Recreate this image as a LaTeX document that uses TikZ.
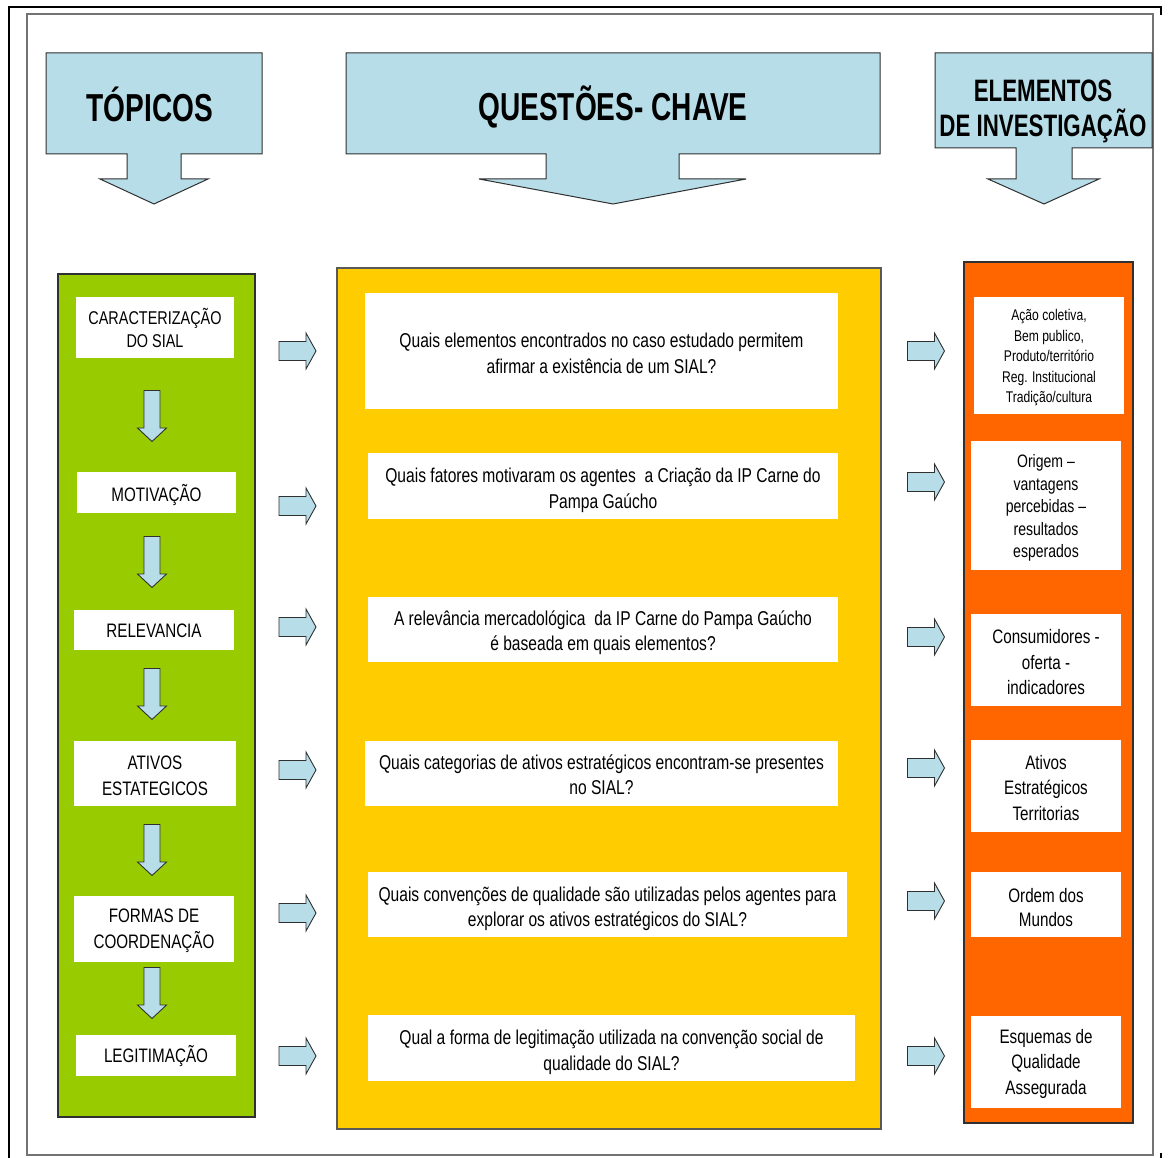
\documentclass[tikz,border=0pt]{standalone}
\usepackage{fontspec}
\newfontfamily\headfont[FakeStretch=0.72]{Liberation Sans}
\newfontfamily\bodyfont[FakeStretch=0.78]{Liberation Sans}
\usetikzlibrary{calc}

\definecolor{hdrblue}{HTML}{B7DEE8}
\definecolor{colgreen}{HTML}{99CC00}
\definecolor{colyellow}{HTML}{FFCC00}
\definecolor{colorange}{HTML}{FF6600}
\definecolor{edge}{HTML}{303030}

% invisible strut that raises the first line of a box, pushing its text down
\newcommand\toppad[1]{\rule{0pt}{#1pt}}

\tikzset{
  hdr/.style={fill=hdrblue, draw=edge, line width=1pt, line join=miter},
  hdrtext/.style={font=\headfont\bfseries\fontsize{39}{41}\selectfont, inner sep=0pt, anchor=base},
  column/.style={draw=edge, line width=1.2pt},
  wbox/.style={fill=white, draw=none, inner sep=2pt, align=center, text=black},
  ltxt/.style={wbox, font=\bodyfont\fontsize{19.5}{23}\selectfont},
  ltxtwide/.style={wbox, font=\bodyfont\fontsize{19.5}{26}\selectfont},
  qtxt/.style={wbox, font=\bodyfont\fontsize{20}{25.5}\selectfont},
  etxt/.style={wbox, font=\bodyfont\fontsize{19.5}{25.5}\selectfont},
  blk/.style={fill=hdrblue, draw=edge, line width=0.9pt, line join=miter},
  rarrow/.pic={\draw[blk] (-18.5,-9.5) -- (8.5,-9.5) -- (8.5,-18) -- (18.5,0)
                 -- (8.5,18) -- (8.5,9.5) -- (-18.5,9.5) -- cycle;},
  darrow/.pic={\draw[blk] (-8,-25.5) -- (8,-25.5) -- (8,12) -- (14.5,12)
                 -- (0,25.5) -- (-14.5,12) -- (-8,12) -- cycle;}
}

\begin{document}
\begin{tikzpicture}[x=1pt,y=-1pt]
\useasboundingbox[fill=white] (0,0) rectangle (1168,1158);

% page frames
\draw[line width=2.6pt] (9,1158) -- (9,7) -- (1161,7) -- (1161,15);
\draw[line width=2.6pt] (1161,1153) -- (1161,1158);
\draw[black!55, line width=1.3pt] (27,14) rectangle (1153,1155);

% header callouts
\draw[hdr] (46,53) -- (262,53) -- (262,154) -- (181,154) -- (181,179) -- (208,179)
  -- (154,204) -- (100,179) -- (127,179) -- (127,154) -- (46,154) -- cycle;
\node[hdrtext] (htop) at (150,122) {TÓPICOS};

\draw[hdr] (346,53) -- (880,53) -- (880,154) -- (679,154) -- (679,179) -- (746,179)
  -- (613,204) -- (479,179) -- (546,179) -- (546,154) -- (346,154) -- cycle;
\node[hdrtext] (hque) at (613,121) {QUESTÕES- CHAVE};

\draw[hdr] (935,53) -- (1152,53) -- (1152,148) -- (1072,148) -- (1072,179) -- (1099,179)
  -- (1044,204) -- (988,179) -- (1016,179) -- (1016,148) -- (935,148) -- cycle;
\node[font=\headfont\bfseries\fontsize{31}{35}\selectfont, align=center, inner sep=0pt]
  (hele) at (1043,111) {ELEMENTOS\\DE INVESTIGAÇÃO};

% columns
\draw[column, fill=colgreen] (58,274) rectangle (255,1117);
\draw[column, fill=colyellow, draw=black!65] (337,268) rectangle (881,1129);
\draw[column, fill=colorange] (964,262) rectangle (1133,1123);

% topics
\node[ltxt, minimum width=158pt, minimum height=61pt, font=\bodyfont\fontsize{18.5}{23}\selectfont]
  (t1) at (155,327.5) {CARACTERIZAÇÃO\\DO SIAL};
\node[ltxt, minimum width=159pt, minimum height=41pt] (t2) at (156.5,492.5) {\toppad{22.6}MOTIVAÇÃO};
\node[ltxt, minimum width=160pt, minimum height=40pt] (t3) at (154,630) {\toppad{15.4}RELEVANCIA};
\node[ltxtwide, minimum width=162pt, minimum height=65pt] (t4) at (155,773.5) {\toppad{17.4}ATIVOS\\ESTATEGICOS};
\node[ltxtwide, minimum width=160pt, minimum height=66pt] (t5) at (154,929) {\toppad{17.4}FORMAS DE\\COORDENAÇÃO};
\node[ltxt, minimum width=160pt, minimum height=41pt] (t6) at (156,1055.5) {\toppad{18.6}LEGITIMAÇÃO};

% key questions
\node[qtxt, minimum width=473pt, minimum height=116pt] (q1) at (601.5,351)
  {\toppad{19.3}Quais elementos encontrados no caso estudado permitem\\afirmar a existência de um SIAL?};
\node[qtxt, minimum width=470pt, minimum height=66pt] (q2) at (603,486)
  {\toppad{23.5}Quais fatores motivaram os agentes\ \ a Criação da IP Carne do\\Pampa Gaúcho};
\node[qtxt, minimum width=470pt, minimum height=65pt] (q3) at (603,629.5)
  {\toppad{21.6}A relevância mercadológica\ \ da IP Carne do Pampa Gaúcho\\é baseada em quais elementos?};
\node[qtxt, minimum width=473pt, minimum height=65pt] (q4) at (601.5,773.5)
  {\toppad{17.6}Quais categorias de ativos estratégicos encontram-se presentes\\no SIAL?};
\node[qtxt, minimum width=479pt, minimum height=65pt] (q5) at (607.5,904.5)
  {\toppad{23.5}Quais convenções de qualidade são utilizadas pelos agentes para\\explorar os ativos estratégicos do SIAL?};
\node[qtxt, minimum width=487pt, minimum height=66pt] (q6) at (611.5,1048)
  {\toppad{23.5}Qual a forma de legitimação utilizada na convenção social de\\qualidade do SIAL?};

% investigation elements
\node[etxt, minimum width=150pt, minimum height=117pt, font=\bodyfont\fontsize{15.5}{20.5}\selectfont]
  (e1) at (1049,355.5) {\toppad{15.7}Ação coletiva,\\Bem publico,\\Produto/território\\Reg. Institucional\\Tradição/cultura};
\node[etxt, minimum width=150pt, minimum height=129pt, font=\bodyfont\fontsize{18}{22.5}\selectfont]
  (e2) at (1046,505.5) {\toppad{18}Origem –\\vantagens\\percebidas –\\resultados\\esperados};
\node[etxt, minimum width=150pt, minimum height=92pt] (e3) at (1046,660) {\toppad{19}Consumidores -\\oferta -\\indicadores};
\node[etxt, minimum width=150pt, minimum height=92pt] (e4) at (1046,786) {\toppad{17.4}Ativos\\Estratégicos\\Territorias};
\node[etxt, minimum width=150pt, minimum height=65pt, font=\bodyfont\fontsize{19.5}{24}\selectfont]
  (e5) at (1046,904.5) {\toppad{20}Ordem dos\\Mundos};
\node[etxt, minimum width=150pt, minimum height=92pt] (e6) at (1046,1062) {\toppad{18}Esquemas de\\Qualidade\\Assegurada};

% downward arrows between topics
\foreach \yy in {416,562,694,850,993}
  \pic at (152,\yy) {darrow};

% arrows from topics to questions
\foreach \yy in {351,506,627,770,913,1056}
  \pic at (297.5,\yy) {rarrow};

% arrows from questions to elements
\foreach \yy in {351,482,637,768,901,1056}
  \pic at (926,\yy) {rarrow};
\end{tikzpicture}
\end{document}
